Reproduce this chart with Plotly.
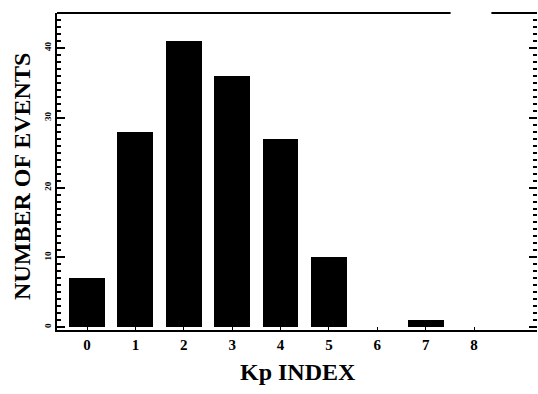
import plotly.graph_objects as go

kp_index = [0, 1, 2, 3, 4, 5, 6, 7, 8]
n_events = [7, 28, 41, 36, 27, 10, 0, 1, 0]
kp_labels = ["0", "1", "2", "3", "4", "5", "6", "7", "8"]

serif = "Liberation Serif, Times New Roman, serif"

fig = go.Figure()
fig.add_trace(go.Bar(
    x=kp_index, y=n_events, width=0.74,
    marker=dict(color="black", line=dict(width=0)),
    showlegend=False,
))
# invisible trace carrying the right-hand tick column
fig.add_trace(go.Scatter(x=[None], y=[None], yaxis="y2", showlegend=False))

fig.update_layout(
    width=538, height=394,
    margin=dict(l=57, r=1, t=13, b=64),
    paper_bgcolor="white", plot_bgcolor="white",
    bargap=0,
    font=dict(family=serif, color="black"),
    xaxis=dict(
        range=[-0.62, 9.3],
        tickmode="array", tickvals=kp_index,
        ticktext=["<b>%s</b>" % t for t in kp_labels],
        tickfont=dict(size=15, family=serif),
        ticks="inside", ticklen=3, tickcolor="black",
        showline=True, linecolor="black", linewidth=2,
        showgrid=False, zeroline=False,
    ),
    yaxis=dict(
        range=[-0.4, 45],
        tickvals=[0, 10, 20, 30, 40],
        ticktext=["<b>0</b>", "<b>10</b>", "<b>20</b>", "<b>30</b>", "<b>40</b>"],
        tickangle=-90,
        tickfont=dict(size=9, family=serif),
        ticks="inside", ticklen=8, tickwidth=2, tickcolor="black",
        minor=dict(ticks="inside", dtick=1, ticklen=4, tickwidth=1.5, tickcolor="black"),
        showline=True, linecolor="black", linewidth=2,
        showgrid=False, zeroline=False,
    ),
    yaxis2=dict(
        overlaying="y", side="right", matches="y",
        range=[-0.4, 45],
        tickvals=[0, 10, 20, 30, 40], showticklabels=False,
        ticks="inside", ticklen=8, tickwidth=2, tickcolor="black",
        minor=dict(ticks="inside", dtick=1, ticklen=4, tickwidth=1.5, tickcolor="black"),
        showline=False, showgrid=False, zeroline=False,
    ),
    shapes=[
        dict(type="line", xref="paper", yref="paper", x0=0, x1=0.82, y0=1, y1=1,
             line=dict(color="black", width=2)),
        dict(type="line", xref="paper", yref="paper", x0=0.905, x1=1, y0=1, y1=1,
             line=dict(color="black", width=2)),
    ],
    annotations=[
        dict(text="<b>NUMBER OF EVENTS</b>", xref="paper", yref="paper",
             x=-0.073, y=0.486, xanchor="center", yanchor="middle",
             textangle=-90, showarrow=False,
             font=dict(size=24, family=serif, color="black")),
        dict(text="<b>Kp INDEX</b>", xref="paper", yref="paper",
             x=0.502, y=-0.132, xanchor="center", yanchor="middle",
             showarrow=False,
             font=dict(size=24, family=serif, color="black")),
    ],
)

fig.write_html("out.html")
